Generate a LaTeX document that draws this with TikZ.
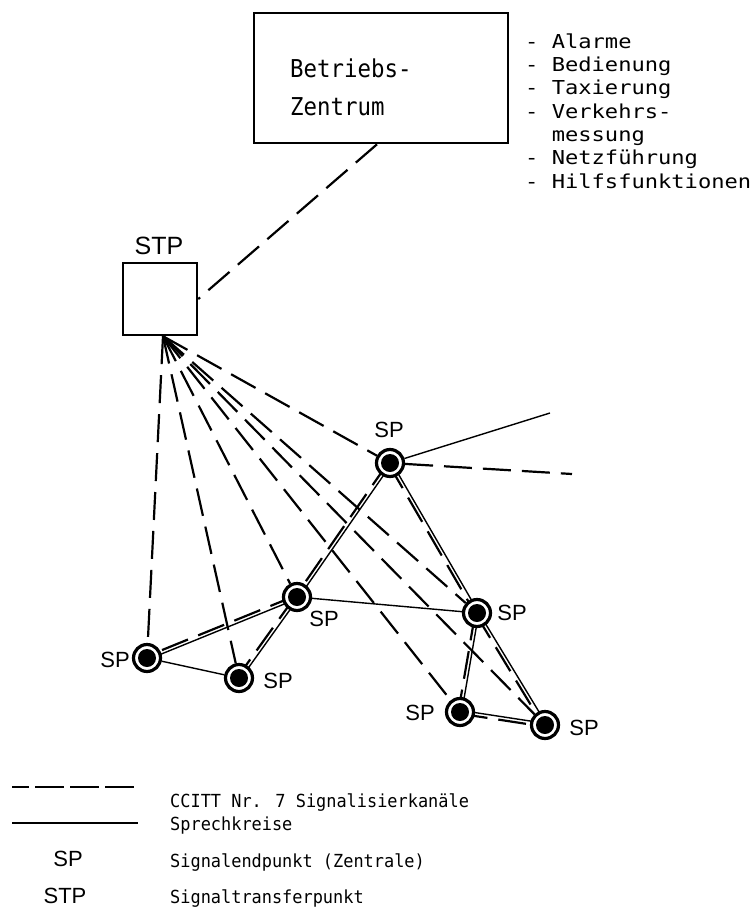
\documentclass[tikz,border=0pt]{standalone}
\usepackage{fontspec}
\usetikzlibrary{calc}
\newfontfamily\boxfont[FakeStretch=0.91]{DejaVu Sans Mono}
\newfontfamily\plotwide[FakeStretch=1.15]{DejaVu Sans Mono}
\newfontfamily\keyfont[FakeStretch=0.94]{DejaVu Sans Mono}
\newfontfamily\tagfont{Liberation Sans}
\pgfdeclarelayer{bg}
\pgfsetlayers{bg,main}

\tikzset{
  signal/.style={line width=2.2pt, dash pattern=on 28pt off 11pt},
  speech/.style={line width=1.4pt},
  spnode/.style={circle, draw, line width=3.2pt, fill=white, minimum size=27pt,
    inner sep=0pt,
    path picture={\fill[black] (path picture bounding box.center) circle (9pt);}},
  stpbox/.style={draw, line width=2.4pt, minimum width=74pt, minimum height=72pt, inner sep=0pt},
  centrebox/.style={draw, line width=2.6pt, minimum width=254pt, minimum height=130pt, inner sep=0pt},
  sptag/.style={font=\tagfont\fontsize{22}{26}\selectfont, inner sep=0pt, anchor=base},
  stptag/.style={font=\tagfont\fontsize{25}{30}\selectfont, inner sep=0pt, anchor=base},
  boxtext/.style={font=\boxfont\fontsize{24.6}{38}\selectfont, inner sep=0pt, anchor=base west, align=left},
  listtext/.style={font=\plotwide\fontsize{19.2}{23.3}\selectfont, inner sep=0pt, anchor=base west, align=left},
  keytext/.style={font=\keyfont\fontsize{18}{20}\selectfont, inner sep=0pt, anchor=base west},
}

% signalling channel and speech circuit side by side between two exchanges
\newcommand\dualink[2]{%
  \draw[speech] ($(#1)!1.7pt!90:(#2)$) -- ($(#2)!1.7pt!-90:(#1)$);
  \draw[signal] ($(#1)!1.7pt!-90:(#2)$) -- ($(#2)!1.7pt!90:(#1)$);}

\begin{document}
\begin{tikzpicture}[x=1pt, y=-1pt]
\useasboundingbox (0,0) rectangle (754,918);

% operations centre with its tasks (multi-line nodes sit on their last baseline)
\node[centrebox] (bz) at (381,78) {};
\node[boxtext] (bztext) at (290,115) {Betriebs-\\Zentrum};
\node[listtext] (tasks) at (525,188) {- Alarme\\- Bedienung\\- Taxierung\\- Verkehrs-\\\phantom{- }messung\\- Netzführung\\- Hilfsfunktionen};

% signal transfer point
\node[stpbox] (stp) at (160,299) {};
\node[stptag] (stplabel) at (159,254) {STP};
\coordinate (hub) at ($(stp.south)+(3,0)$);
\coordinate (bzfoot) at ($(bz.south)+(-4,0)$);

% signalling end points (exchanges)
\node[spnode] (sp1) at (390,463) {};
\node[spnode] (sp2) at (297,597) {};
\node[spnode] (sp3) at (477,613) {};
\node[spnode] (sp4) at (147,658) {};
\node[spnode] (sp5) at (239,678) {};
\node[spnode] (sp6) at (460,712) {};
\node[spnode] (sp7) at (545,725) {};

\node[sptag] (t1) at (389,437) {SP};
\node[sptag] (t2) at (324,626) {SP};
\node[sptag] (t3) at (512,620) {SP};
\node[sptag] (t4) at (115,667) {SP};
\node[sptag] (t5) at (278,688) {SP};
\node[sptag] (t6) at (420,720) {SP};
\node[sptag] (t7) at (584,735) {SP};

\coordinate (spout) at (550,413);
\coordinate (sigout) at (572,474);

\begin{pgfonlayer}{bg}
  % link to the operations centre
  \draw[signal] (bzfoot) -- (stp.east);
  % signalling channels fanning out of the STP
  \foreach \s in {sp1,sp2,sp3,sp4,sp5,sp6,sp7}
    \draw[signal] (hub) -- (\s);
  % trunks carrying both speech and signalling
  \dualink{sp1}{sp2}
  \dualink{sp1}{sp3}
  \dualink{sp2}{sp4}
  \dualink{sp2}{sp5}
  \dualink{sp3}{sp6}
  \dualink{sp3}{sp7}
  \dualink{sp6}{sp7}
  % speech circuits only
  \draw[speech] (sp2) -- (sp3);
  \draw[speech] (sp4) -- (sp5);
  \draw[speech] (sp1) -- (spout);
  \draw[signal] (sp1) -- (sigout);
\end{pgfonlayer}

% key
\draw[signal, dash pattern=on 29pt off 6pt, dash phase=12pt] (12,787) -- (138,787);
\draw[speech] (12,823) -- (138,823);
\node[keytext] (k1) at (170,807) {CCITT Nr. 7 Signalisierkanäle};
\node[keytext] (k2) at (170,830) {Sprechkreise};
\node[sptag] (k3tag) at (68,866) {SP};
\node[keytext] (k3) at (170,867) {Signalendpunkt (Zentrale)};
\node[sptag] (k4tag) at (65,903) {STP};
\node[keytext] (k4) at (170,903) {Signaltransferpunkt};
\end{tikzpicture}
\end{document}
